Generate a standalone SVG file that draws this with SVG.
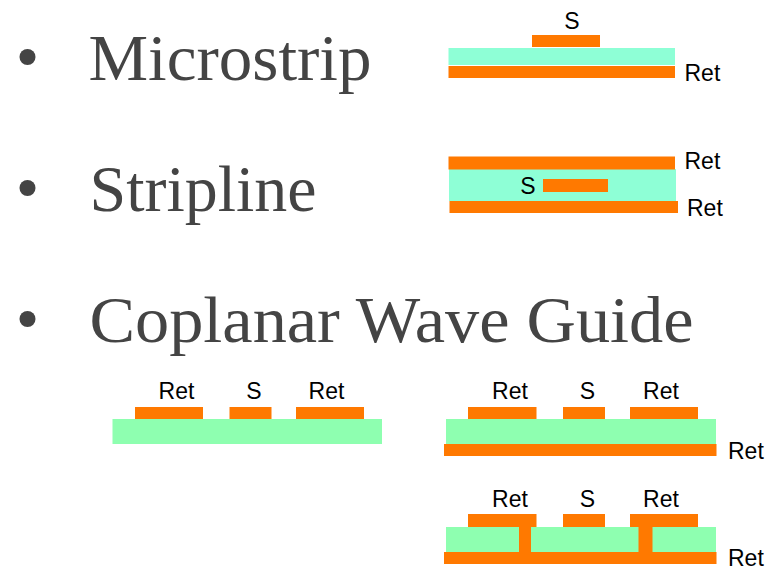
<svg xmlns="http://www.w3.org/2000/svg" width="772" height="566" viewBox="0 0 772 566">
<style>
.h{font-family:"Liberation Serif",serif;font-size:66px;fill:#444444}
.l{font-family:"Liberation Sans",Arial,sans-serif;font-size:23px;fill:#000}
.m{text-anchor:middle}
.c{fill:#ff7900}
.a{fill:#8effd6}
.g{fill:#8effb0}
.b{fill:#444444}
</style>
<rect width="772" height="566" fill="#fff"/>
<g id="bullets">
<circle class="b" cx="27.500" cy="57" r="8"/>
<circle class="b" cx="27.500" cy="188" r="8"/>
<circle class="b" cx="27.500" cy="319" r="8"/>
</g>
<g id="headings">
<text class="h" x="88.500" y="80" textLength="283" lengthAdjust="spacingAndGlyphs">Microstrip</text>
<text class="h" x="89.500" y="211" textLength="227" lengthAdjust="spacingAndGlyphs">Stripline</text>
<text class="h" x="89.500" y="342" textLength="604" lengthAdjust="spacingAndGlyphs">Coplanar Wave Guide</text>
</g>
<g id="microstrip">
<rect class="c" x="532" y="35" width="68" height="12"/>
<rect class="a" x="448.500" y="48" width="226.500" height="17"/>
<rect class="c" x="448.500" y="66" width="226.500" height="12"/>
<text class="l m" x="572" y="28.500">S</text>
<text class="l" x="684.500" y="80.500">Ret</text>
</g>
<g id="stripline">
<rect class="a" x="449" y="169" width="227" height="32"/>
<rect class="c" x="448.500" y="156.500" width="226.500" height="13"/>
<rect class="c" x="543" y="179" width="65" height="13"/>
<rect class="c" x="449.500" y="201" width="228.500" height="12"/>
<text class="l m" x="528" y="193.500">S</text>
<text class="l" x="684.500" y="168.500">Ret</text>
<text class="l" x="687" y="215.500">Ret</text>
</g>
<g id="cpw-plain">
<rect class="g" x="112.500" y="419" width="269.500" height="25"/>
<rect class="c" x="135" y="407" width="68" height="12"/>
<rect class="c" x="229.500" y="407" width="42" height="12"/>
<rect class="c" x="296" y="407" width="68" height="12"/>
<text class="l m" x="176.500" y="398.500">Ret</text>
<text class="l m" x="254" y="398.500">S</text>
<text class="l m" x="326.500" y="398.500">Ret</text>
</g>
<g id="cpw-backed">
<rect class="g" x="446" y="419" width="270" height="25"/>
<rect class="c" x="468" y="407" width="68.500" height="12"/>
<rect class="c" x="563" y="407" width="42" height="12"/>
<rect class="c" x="630" y="407" width="68" height="12"/>
<rect class="c" x="444" y="444" width="272.500" height="12"/>
<text class="l m" x="510" y="398.500">Ret</text>
<text class="l m" x="587.500" y="398.500">S</text>
<text class="l m" x="661" y="398.500">Ret</text>
<text class="l" x="728" y="458.500">Ret</text>
</g>
<g id="cpw-via">
<rect class="g" x="446" y="527" width="270" height="25"/>
<rect class="c" x="468" y="514" width="68.500" height="13"/>
<rect class="c" x="563" y="514" width="42" height="13"/>
<rect class="c" x="630" y="514" width="68" height="13"/>
<rect class="c" x="519" y="527" width="12" height="25"/>
<rect class="c" x="638.500" y="527" width="14" height="25"/>
<rect class="c" x="444" y="552" width="272.500" height="12"/>
<text class="l m" x="510" y="506.500">Ret</text>
<text class="l m" x="587.500" y="506.500">S</text>
<text class="l m" x="661" y="506.500">Ret</text>
<text class="l" x="728" y="565.500">Ret</text>
</g>
</svg>
